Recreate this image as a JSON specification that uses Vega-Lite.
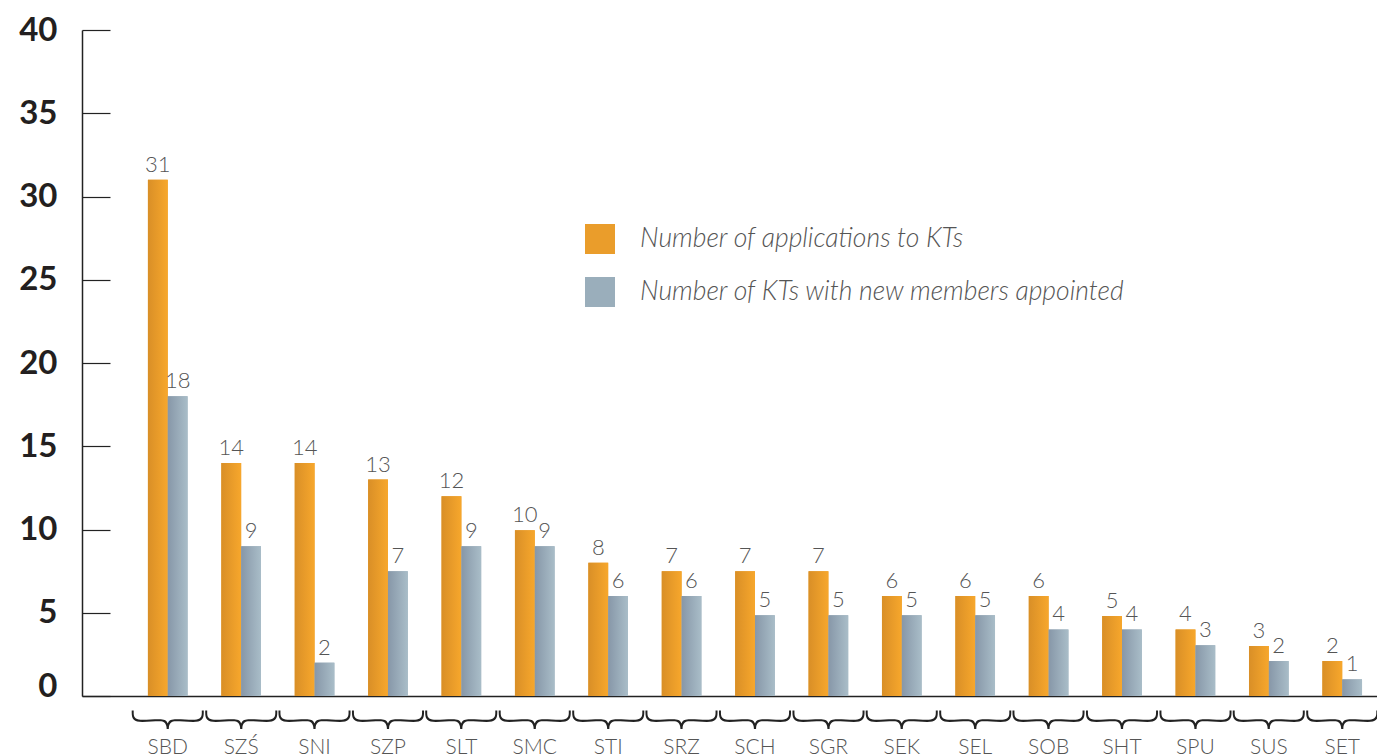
{
  "$schema": "https://vega.github.io/schema/vega-lite/v6.json",
  "width": 1295,
  "height": 666,
  "autosize": {"type": "none"},
  "padding": {"left": 82, "top": 30, "right": 0, "bottom": 59},
  "background": "white",
  "config": {"view": {"stroke": null}, "font": "Lato"},
  "data": {
    "values": [
      {"cat": "SBD", "series": "Number of applications to KTs", "height": 31, "label": "31"},
      {"cat": "SBD", "series": "Number of KTs with new members appointed", "height": 18, "label": "18"},
      {"cat": "SZŚ", "series": "Number of applications to KTs", "height": 14, "label": "14"},
      {"cat": "SZŚ", "series": "Number of KTs with new members appointed", "height": 9, "label": "9"},
      {"cat": "SNI", "series": "Number of applications to KTs", "height": 14, "label": "14"},
      {"cat": "SNI", "series": "Number of KTs with new members appointed", "height": 2, "label": "2"},
      {"cat": "SZP", "series": "Number of applications to KTs", "height": 13, "label": "13"},
      {"cat": "SZP", "series": "Number of KTs with new members appointed", "height": 7.5, "label": "7"},
      {"cat": "SLT", "series": "Number of applications to KTs", "height": 12, "label": "12"},
      {"cat": "SLT", "series": "Number of KTs with new members appointed", "height": 9, "label": "9"},
      {"cat": "SMC", "series": "Number of applications to KTs", "height": 9.95, "label": "10"},
      {"cat": "SMC", "series": "Number of KTs with new members appointed", "height": 9, "label": "9"},
      {"cat": "STI", "series": "Number of applications to KTs", "height": 8, "label": "8"},
      {"cat": "STI", "series": "Number of KTs with new members appointed", "height": 6, "label": "6"},
      {"cat": "SRZ", "series": "Number of applications to KTs", "height": 7.5, "label": "7"},
      {"cat": "SRZ", "series": "Number of KTs with new members appointed", "height": 6, "label": "6"},
      {"cat": "SCH", "series": "Number of applications to KTs", "height": 7.5, "label": "7"},
      {"cat": "SCH", "series": "Number of KTs with new members appointed", "height": 4.85, "label": "5"},
      {"cat": "SGR", "series": "Number of applications to KTs", "height": 7.5, "label": "7"},
      {"cat": "SGR", "series": "Number of KTs with new members appointed", "height": 4.85, "label": "5"},
      {"cat": "SEK", "series": "Number of applications to KTs", "height": 6, "label": "6"},
      {"cat": "SEK", "series": "Number of KTs with new members appointed", "height": 4.85, "label": "5"},
      {"cat": "SEL", "series": "Number of applications to KTs", "height": 6, "label": "6"},
      {"cat": "SEL", "series": "Number of KTs with new members appointed", "height": 4.85, "label": "5"},
      {"cat": "SOB", "series": "Number of applications to KTs", "height": 6, "label": "6"},
      {"cat": "SOB", "series": "Number of KTs with new members appointed", "height": 4, "label": "4"},
      {"cat": "SHT", "series": "Number of applications to KTs", "height": 4.8, "label": "5"},
      {"cat": "SHT", "series": "Number of KTs with new members appointed", "height": 4, "label": "4"},
      {"cat": "SPU", "series": "Number of applications to KTs", "height": 4, "label": "4"},
      {"cat": "SPU", "series": "Number of KTs with new members appointed", "height": 3.05, "label": "3"},
      {"cat": "SUS", "series": "Number of applications to KTs", "height": 3, "label": "3"},
      {"cat": "SUS", "series": "Number of KTs with new members appointed", "height": 2.1, "label": "2"},
      {"cat": "SET", "series": "Number of applications to KTs", "height": 2.1, "label": "2"},
      {"cat": "SET", "series": "Number of KTs with new members appointed", "height": 1, "label": "1"}
    ]
  },
  "encoding": {
    "x": {
      "field": "cat",
      "type": "nominal",
      "sort": null,
      "scale": {"paddingInner": 0.46, "paddingOuter": 0.551, "align": 0.815},
      "axis": {
        "title": null,
        "labelAngle": 0,
        "ticks": false,
        "domainColor": "#222222",
        "domainWidth": 1.5,
        "labelPadding": 40,
        "labelFont": "Lato",
        "labelFontWeight": 300,
        "labelFontSize": 21,
        "labelColor": "#555555"
      }
    }
  },
  "layer": [
    {
      "mark": {"type": "bar"},
      "encoding": {
        "xOffset": {"field": "series", "type": "nominal", "scale": {"domain": ["Number of applications to KTs", "Number of KTs with new members appointed"], "paddingInner": 0}},
        "y": {
          "field": "height",
          "type": "quantitative",
          "scale": {"domain": [0, 40], "nice": false},
          "axis": {
            "title": null,
            "values": [0, 5, 10, 15, 20, 25, 30, 35, 40],
            "grid": false,
            "tickSize": -28,
            "tickColor": "#222222",
            "tickWidth": 1.2,
            "domainColor": "#222222",
            "domainWidth": 1.5,
            "labelFont": "Lato",
            "labelFontSize": 33,
            "labelFontWeight": "bold",
            "labelColor": "#231f20",
            "labelPadding": 53,
            "labelOffset": {"condition": {"test": "datum.value === 0", "value": -10}, "value": 0}
          }
        },
        "color": {
          "field": "series",
          "type": "nominal",
          "scale": {"domain": ["Number of applications to KTs", "Number of KTs with new members appointed"], "range": ["#EA9D2B", "#9AAEBB"]},
          "legend": {
            "title": null,
            "orient": "none",
            "legendX": 503,
            "legendY": 194,
            "symbolType": "square",
            "symbolSize": 900,
            "symbolStrokeWidth": 0,
            "labelFont": "Lato",
            "labelFontSize": 26.5,
            "labelFontStyle": "italic",
            "labelFontWeight": 300,
            "labelColor": "#555555",
            "labelOffset": 25,
            "rowPadding": 23,
            "labelLimit": 700
          }
        }
      }
    },
    {
      "transform": [{"filter": "datum.series === 'Number of applications to KTs'"}],
      "mark": {"type": "bar", "color": {"gradient": "linear", "x1": 0, "y1": 0, "x2": 1, "y2": 0, "stops": [{"offset": 0, "color": "#D98F27"}, {"offset": 1, "color": "#F7A72C"}]}},
      "encoding": {
        "xOffset": {"field": "series", "type": "nominal", "scale": {"domain": ["Number of applications to KTs", "Number of KTs with new members appointed"], "paddingInner": 0}},
        "y": {"field": "height", "type": "quantitative"}
      }
    },
    {
      "transform": [{"filter": "datum.series === 'Number of KTs with new members appointed'"}],
      "mark": {"type": "bar", "color": {"gradient": "linear", "x1": 0, "y1": 0, "x2": 1, "y2": 0, "stops": [{"offset": 0, "color": "#8797A8"}, {"offset": 1, "color": "#A9BDC8"}]}},
      "encoding": {
        "xOffset": {"field": "series", "type": "nominal", "scale": {"domain": ["Number of applications to KTs", "Number of KTs with new members appointed"], "paddingInner": 0}},
        "y": {"field": "height", "type": "quantitative"}
      }
    },
    {
      "mark": {"type": "text", "font": "Lato", "fontWeight": 300, "fontSize": 22, "color": "#555555", "baseline": "alphabetic", "dy": -8},
      "encoding": {
        "xOffset": {"field": "series", "type": "nominal", "scale": {"domain": ["Number of applications to KTs", "Number of KTs with new members appointed"], "paddingInner": 0}},
        "y": {"field": "height", "type": "quantitative"},
        "text": {"field": "label"}
      }
    },
    {
      "transform": [{"filter": "datum.series === 'Number of applications to KTs'"}],
      "mark": {"type": "text", "text": "︸", "font": "Noto Sans CJK JP", "fontWeight": 100, "fontSize": 76, "color": "#222222", "baseline": "top", "dy": 19},
      "encoding": {
        "y": {"datum": 0, "type": "quantitative"}
      }
    }
  ]
}
